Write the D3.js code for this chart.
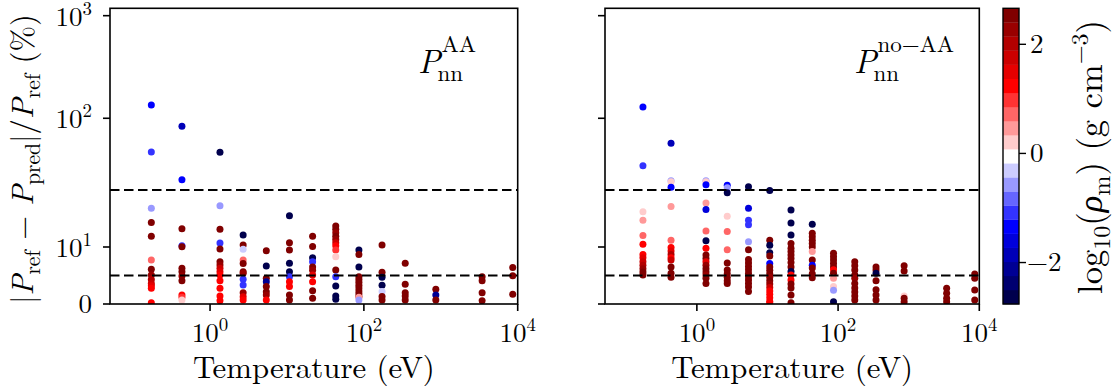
<!DOCTYPE html>
<html><head><meta charset="utf-8">
<script src="https://cdn.jsdelivr.net/npm/d3@7"></script>
<style>
body{margin:0;background:#fff}
svg{display:block}
text{font-family:"Latin Modern Roman","CMU Serif","Liberation Serif",serif;fill:#000;white-space:pre}
</style>
</head><body><svg id="chart" width="1116" height="390"></svg>
<script>
// ---------------- data ----------------
const temperaturesEV = [0.1723, 0.4309, 1.346, 2.693, 5.386, 10.77, 21.54, 43.09, 86.17, 172.3, 344.7, 861.7, 3447, 8617];

// relative error (%) per temperature column, panel "AA"
const aaErrors = [
  [135, 47, 16.8, 14.3, 11.9, 7.7, 6.1, 5.1, 4.3, 3.6, 3.2, 2.75, 0.23],
  [83.5, 25.1, 13.2, 10.2, 10.05, 6.27, 5.67, 4.91, 4.09, 1.58, 1.18, 0.7],
  [46.6, 17.25, 13.1, 10.7, 9.65, 7.42, 6.84, 6.26, 5.67, 5.09, 4.09, 2.75, 1.4, 0.58],
  [12.1, 10.35, 9.6, 7.7, 7.1, 5.67, 5.4, 4.33, 3.33, 1.98, 1.28, 0.7],
  [9.35, 6.67, 4.5, 3.9, 3.05, 2.16, 1.58, 0.7],
  [15.5, 10.75, 9.47, 7.14, 5.67, 4.8, 3.9, 3.05, 1.58, 0.7],
  [11.9, 10.1, 8.1, 7.4, 6.5, 5.9, 5.1, 3.9, 2.33, 1.0],
  [13.7, 13.1, 12.5, 11.9, 11.3, 10.75, 10.2, 9.47, 8.3, 5.96, 4.8, 3.16, 1.4, 0.82],
  [9.47, 8.7, 6.5, 4.8, 4.3, 3.8, 3.3, 2.8, 2.3, 1.8, 1.3, 1.2, 0.7],
  [10.35, 5.57, 4.7, 3.3, 2.2, 1.3, 0.7],
  [7.14, 3.45, 1.98, 1.4, 0.7],
  [2.58, 1.58, 0.7],
  [4.8, 4.1, 1.98, 0.58],
  [6.4, 4.97, 1.7]
];
// log10 density (g/cm3) per point, panel "AA"
const aaLogRho = [
  [-1.35, -1.1, -0.6, 2.5, 2.5, 0.6, 2.5, 2.3, 2.0, 1.8, 1.5, 1.3, 1.3],
  [-1.8, -1.35, 2.5, -1.1, 2.5, 2.5, 2.5, 2.3, 2.5, 1.3, 1.0, 0.3],
  [-2.6, -0.6, 2.5, -1.1, 2.5, 2.5, 2.2, 1.8, 1.5, 1.3, 1.3, 1.3, 1.3, 1.3],
  [-2.6, 2.5, -0.4, 0.6, 2.5, 2.5, 2.2, -1.2, -1.0, 2.3, 1.5, 1.3],
  [2.5, -2.6, 2.5, -2.0, 2.5, 2.5, 2.3, 1.3],
  [-2.6, 2.5, 2.5, -2.6, -2.6, -1.2, 1.3, 1.3, 2.5, 2.5],
  [2.5, 2.5, -2.6, -1.2, 2.5, 2.2, 1.5, 1.3, 2.5, 2.5],
  [2.5, 2.5, 2.3, 2.5, 2.2, 1.8, 1.3, 0.9, 0.2, 2.5, -1.2, -2.6, -2.6, -2.6],
  [-2.6, 2.5, -2.6, 2.5, 2.5, 2.5, 2.5, 2.5, 2.5, 2.5, 2.5, 0.5, -0.6],
  [2.5, 2.5, -2.6, -2.6, -0.3, 2.5, 2.5],
  [2.5, 2.5, 2.5, 2.5, 2.5],
  [2.5, -2.0, 2.5],
  [2.5, 2.5, 2.5, 2.5],
  [2.5, 2.5, 2.5]
];

// relative error (%) per temperature column, panel "no-AA"
const noAAErrors = [
  [128.8, 34.5, 16.2, 14.7, 12.0, 10.5, 8.7, 8.1, 7.4, 6.8, 6.2, 5.6, 5.1],
  [57, 24.6, 24.1, 21.3, 17.1, 11.2, 9.9, 9.3, 8.7, 8.1, 7.7, 6.5, 5.4, 4.7],
  [24.6, 24.1, 22.5, 17.7, 16.6, 12.8, 11.1, 9.8, 8.6, 8.0, 7.4, 6.8, 6.2, 5.6, 5.1, 4.5, 3.6],
  [22.2, 21.0, 19.5, 15.4, 12.7, 9.5, 7.2, 5.96, 5.3, 4.7, 4.1, 3.6],
  [21.5, 16.8, 14.7, 13.9, 10.9, 9.5, 7.8, 7.2, 6.6, 6.0, 5.4, 4.8, 4.2, 3.6, 3.0, 2.2],
  [19.9, 11.2, 10.3, 9.0, 8.4, 7.1, 6.5, 5.9, 5.3, 4.7, 4.1, 3.5, 2.9, 2.3, 1.7, 1.1, 0.5, 0.2],
  [16.5, 14.2, 12.1, 10.6, 9.8, 9.2, 8.6, 8.0, 7.3, 6.5, 5.7, 5.1, 4.2, 3.5, 2.8, 1.6, 0.23],
  [14.0, 12.4, 11.8, 11.2, 10.6, 10.0, 9.2, 7.7, 6.8, 6.3, 5.3, 4.6],
  [8.9, 8.3, 7.7, 7.1, 6.5, 6.0, 5.4, 4.5, 3.05, 2.4, 0.4],
  [7.4, 6.7, 5.96, 5.1, 4.5, 3.6, 2.8, 2.1, 1.4, 0.7],
  [6.5, 5.96, 5.4, 4.1, 2.5, 1.6, 0.7],
  [6.7, 5.8, 1.4, 1.0, 0.4],
  [2.75, 1.9, 1.0, 0.4],
  [5.26, 4.5, 2.46, 0.7]
];
const noAALogRho = [
  [-1.35, -1.1, 0.2, 0.5, 0.8, 1.2, 1.3, 1.5, 1.8, 2.0, 2.2, 2.5, 2.5],
  [-1.8, -0.6, 0.2, -1.35, 0.5, 0.8, 1.3, 1.5, 2.0, 1.3, 1.8, 2.5, 2.5, 2.5],
  [-0.6, 0.2, -1.35, 0.5, -1.6, 0.8, -2.6, 1.3, 2.5, 2.5, 1.5, 2.2, 2.5, 2.5, 2.3, 2.5, 2.5],
  [-1.35, -0.6, -2.6, 0.2, 0.6, 0.8, 2.5, 2.5, 2.5, 2.5, 2.5, 2.5],
  [-2.6, -1.6, -1.2, -1.1, -0.6, 2.5, 2.5, 2.5, 2.5, 2.5, 2.5, 2.5, 2.5, 2.5, 2.5, 2.5],
  [-2.6, 2.5, -2.6, -2.6, 2.5, -1.35, 2.5, 2.5, 2.5, 2.3, 2.5, 2.2, 1.8, 1.3, 1.3, 1.3, 1.3, 1.3],
  [-2.6, -2.6, -2.6, 2.5, 2.5, 2.5, 2.5, 2.5, 2.5, 2.5, -2.6, 1.3, 1.3, 2.5, 2.5, 2.5, 2.5],
  [-2.6, 2.5, 2.5, 2.5, 2.5, 2.5, 0.5, 2.5, -1.35, 2.5, 2.5, 2.5],
  [2.5, 2.5, 2.5, 2.5, 2.5, 1.3, 2.5, 0.5, 0.3, -0.6, -2.6],
  [2.5, 2.5, 2.5, 2.5, 2.2, 2.5, 2.5, 2.5, 2.5, 2.5],
  [2.5, 2.5, -2.6, 2.5, 2.5, 2.5, 2.5],
  [2.5, 2.5, 0.2, 2.5, 2.5],
  [2.5, 2.5, 2.5, 2.5],
  [2.5, 2.5, 2.5, 2.5]
];

const thresholdLines = [5, 20];
const xTicks = [1, 100, 10000];
const xTickExponents = ["0", "2", "4"];
const yTicks = [0, 10, 100, 1000];
const yTickBases = ["0", "10", "10", "10"];
const yTickExponents = ["", "1", "2", "3"];
const cbarTicks = [-2, 0, 2];
const cbarTickLabels = ["\u22122", "0", "2"];
const panelSuperscripts = ["AA", "no\u2212AA"];
const xDomain = [0.05, 1e4];
const yDomain = [0, 1180];
const rhoDomain = [-2.76, 2.66];
const nColorLevels = 21;
const linThresh = 20;

// ---------------- drawing ----------------
const svg = d3.select("#chart");
const yTop = 8.3, yBottom = 304;
const linAdj = 1 / (1 - 1 / 10);
const symT = v => v <= linThresh ? v / linThresh * linAdj : linAdj + Math.log10(v / linThresh);
const yLin = d3.scaleLinear().domain([symT(yDomain[0]), symT(yDomain[1])]).range([yBottom, yTop]);
const yPos = v => yLin(symT(v));

function seismic(t) {
  const stops = [[0, 0, 0.3], [0, 0, 1], [1, 1, 1], [1, 0, 0], [0.5, 0, 0]];
  const s = t * 4, i = Math.min(3, Math.floor(s)), f = s - i;
  const a = stops[i], b = stops[i + 1];
  const c = [0, 1, 2].map(k => Math.round(255 * (a[k] + (b[k] - a[k]) * f)));
  return d3.rgb(c[0], c[1], c[2]).formatHex();
}
const colorLevels = d3.range(nColorLevels).map(i => seismic(i / (nColorLevels - 1)));
const color = d3.scaleQuantize().domain(rhoDomain).range(colorLevels);

const FS = 27;
function addMath(textSel, segs, fs) {
  textSel.selectAll("tspan").remove();
  let shift = 0;
  segs.forEach(s => {
    const target = s.sub ? fs * 0.24 : s.sup ? -fs * 0.40 : 0;
    textSel.append("tspan").text(s.t)
      .attr("dy", (target - shift).toFixed(2))
      .style("font-size", ((s.sub || s.sup) ? fs * 0.7 : fs) + "px")
      .style("font-style", s.it ? "italic" : "normal");
    shift = target;
  });
  return textSel;
}
function fitMath(textSel, segs, fs, target) {
  addMath(textSel, segs, fs);
  const w = textSel.node().getComputedTextLength();
  addMath(textSel, segs, fs * target / w);
}

const panels = [
  {x0: 110, x1: 517.7, errs: aaErrors, rhos: aaLogRho, yLabels: true, px: 418},
  {x0: 605, x1: 979.3, errs: noAAErrors, rhos: noAALogRho, yLabels: false, px: 854}
];

panels.forEach((p, pi) => {
  const x = d3.scaleLog().domain(xDomain).range([p.x0, p.x1]);
  const g = svg.append("g");
  const clipId = "clip" + pi;
  svg.append("clipPath").attr("id", clipId).append("rect")
    .attr("x", p.x0).attr("y", yTop).attr("width", p.x1 - p.x0).attr("height", yBottom - yTop);

  const pts = [];
  p.errs.forEach((col, ci) => col.forEach((e, k) => pts.push({t: temperaturesEV[ci], e, r: p.rhos[ci][k]})));
  g.append("g").attr("clip-path", `url(#${clipId})`)
    .selectAll("circle").data(pts).join("circle")
    .attr("cx", d => x(d.t)).attr("cy", d => yPos(d.e)).attr("r", 3.5)
    .attr("fill", d => color(d.r));

  g.selectAll("line.thr").data(thresholdLines).join("line").attr("class", "thr")
    .attr("x1", p.x0).attr("x2", p.x1).attr("y1", d => yPos(d)).attr("y2", d => yPos(d))
    .attr("stroke", "#000").attr("stroke-width", 2.2).attr("stroke-dasharray", "9.5,4.5");

  // spines
  g.append("rect").attr("x", p.x0).attr("y", yTop).attr("width", p.x1 - p.x0).attr("height", yBottom - yTop)
    .attr("fill", "none").attr("stroke", "#000").attr("stroke-width", 1.6);

  // x ticks
  g.selectAll("line.xt").data(xTicks).join("line")
    .attr("x1", d => x(d)).attr("x2", d => x(d)).attr("y1", yBottom).attr("y2", yBottom + 7)
    .attr("stroke", "#000").attr("stroke-width", 1.6);
  xTicks.forEach((d, i) => {
    const t = g.append("text").attr("x", x(d)).attr("y", 342).attr("text-anchor", "middle");
    addMath(t, [{t: "10"}, {t: xTickExponents[i], sup: true}], FS);
  });
  const xl = g.append("text").attr("x", (p.x0 + p.x1) / 2).attr("y", 378).attr("text-anchor", "middle");
  fitMath(xl, [{t: "Temperature (eV)"}], 30, 242);

  // y ticks
  g.selectAll("line.yt").data(yTicks).join("line")
    .attr("x1", p.x0 - 7).attr("x2", p.x0).attr("y1", d => yPos(d)).attr("y2", d => yPos(d))
    .attr("stroke", "#000").attr("stroke-width", 1.6);
  if (p.yLabels) {
    yTicks.forEach((d, i) => {
      const t = g.append("text").attr("x", 92).attr("y", yPos(d) + (yTickExponents[i] ? 10 : 8.5)).attr("text-anchor", "end");
      const segs = [{t: yTickBases[i]}];
      if (yTickExponents[i]) segs.push({t: yTickExponents[i], sup: true});
      addMath(t, segs, FS);
    });
  }

  // panel annotation P^{..}_{nn}
  const P = g.append("text").attr("x", p.px).attr("y", 73).style("font-size", "33px").style("font-style", "italic").text("P");
  const pw = P.node().getComputedTextLength();
  g.append("text").attr("x", p.px + pw + 1).attr("y", 52).style("font-size", "23px").text(panelSuperscripts[pi]);
  g.append("text").attr("x", p.px + pw - 3).attr("y", 81).style("font-size", "23px").text("nn");
});

// y label
{
  const g = svg.append("g").attr("transform", "translate(33,159) rotate(-90)");
  const t = g.append("text").attr("text-anchor", "middle");
  fitMath(t, [
    {t: "|"}, {t: "P", it: true}, {t: "ref", sub: true}, {t: " \u2212 "}, {t: "P", it: true}, {t: "pred", sub: true},
    {t: "|/"}, {t: "P", it: true}, {t: "ref", sub: true}, {t: " (%)"}
  ], 29, 290);
}

// colorbar
{
  const cx0 = 1003, cx1 = 1019;
  const cs = d3.scaleLinear().domain(rhoDomain).range([yBottom, yTop]);
  const step = (rhoDomain[1] - rhoDomain[0]) / nColorLevels;
  const g = svg.append("g");
  g.selectAll("rect.band").data(colorLevels).join("rect")
    .attr("x", cx0).attr("width", cx1 - cx0)
    .attr("y", (d, i) => cs(rhoDomain[0] + (i + 1) * step))
    .attr("height", (d, i) => cs(rhoDomain[0] + i * step) - cs(rhoDomain[0] + (i + 1) * step) + 0.3)
    .attr("fill", d => d);
  g.append("rect").attr("x", cx0).attr("y", yTop).attr("width", cx1 - cx0).attr("height", yBottom - yTop)
    .attr("fill", "none").attr("stroke", "#000").attr("stroke-width", 1.4);
  g.selectAll("line.ct").data(cbarTicks).join("line")
    .attr("x1", cx1).attr("x2", cx1 + 7).attr("y1", d => cs(d)).attr("y2", d => cs(d))
    .attr("stroke", "#000").attr("stroke-width", 1.4);
  g.selectAll("text.cl").data(cbarTicks).join("text")
    .attr("x", d => d < 0 ? 1027 : 1030).attr("y", d => cs(d) + 8.5).style("font-size", FS + "px")
    .text((d, i) => cbarTickLabels[i]);

  const lg = svg.append("g").attr("transform", "translate(1102,157) rotate(-90)");
  const t = lg.append("text").attr("text-anchor", "middle");
  fitMath(t, [
    {t: "log"}, {t: "10", sub: true}, {t: "("}, {t: "\u03c1", it: true}, {t: "m", sub: true}, {t: ") (g cm"},
    {t: "\u22123", sup: true}, {t: ")"}
  ], 29, 274);
}
</script>
</body></html>
